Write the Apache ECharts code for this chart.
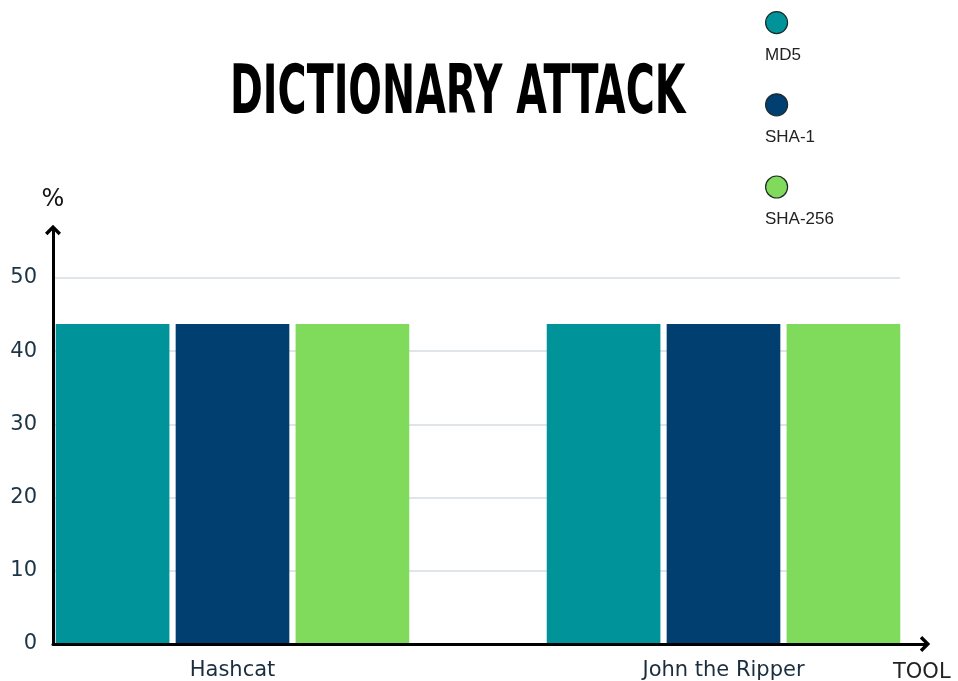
<!DOCTYPE html>
<html>
<head>
<meta charset="utf-8">
<script src="https://cdn.jsdelivr.net/npm/echarts@6/dist/echarts.min.js"></script>
<style>
html,body{margin:0;padding:0;background:#fff;}
#chart{width:958px;height:681px;}
</style>
</head>
<body>
<div id="chart"></div>
<script>
const titleText = 'DICTIONARY ATTACK';
const categories = ['Hashcat', 'John the Ripper'];
const seriesNames = ['MD5', 'SHA-1', 'SHA-256'];
const md5Values = [43.7, 43.7];
const sha1Values = [43.7, 43.7];
const sha256Values = [43.7, 43.7];
const yTicks = [0, 10, 20, 30, 40, 50];
const xAxisName = 'TOOL';
const yAxisName = '%';
const colors = ['#00939a', '#003f6f', '#80da5b'];

const chart = echarts.init(document.getElementById('chart'));
const seriesValues = [md5Values, sha1Values, sha256Values];
const yMin = yTicks[0], yMax = yTicks[yTicks.length - 1], yStep = yTicks[1] - yTicks[0];
const tickFont = '"DejaVu Sans", sans-serif';

const arrowPath = 'path://M0,10 L10,0 L20,10 L17,13 L10,6 L3,13 Z';

const option = {
  backgroundColor: '#ffffff',
  animation: false,
  grid: [
    { left: 55, right: 58, top: 278, bottom: 37, outerBoundsMode: 'none', containLabel: false },
    { left: 53, right: 33, top: 230, bottom: 37, outerBoundsMode: 'none', containLabel: false },
    { left: -13, right: -11, top: 278, bottom: 37, outerBoundsMode: 'none', containLabel: false }
  ],
  legend: {
    orient: 'vertical',
    left: 765, top: 11, padding: 0,
    itemWidth: 22, itemHeight: 22, itemGap: 59,
    icon: 'circle',
    itemStyle: { borderColor: '#1c2b2b', borderWidth: 1.2 },
    formatter: function () { return ''; },
    data: seriesNames
  },
  graphic: [
    {
      type: 'text',
      left: 230,
      top: 62,
      scaleY: 1.54,
      style: {
        text: titleText,
        font: 'bold 44px "Liberation Sans Narrow", "DejaVu Sans Condensed", sans-serif',
        fill: '#000'
      }
    }
  ].concat(seriesNames.map(function (n, i) {
    return {
      type: 'text', left: 765, top: 47 + i * 82,
      style: { text: n, font: '17px "Liberation Sans", Arial, sans-serif', fill: '#222' }
    };
  })),
  xAxis: [
    { gridIndex: 0, type: 'value', show: false },
    {
      gridIndex: 1, type: 'value', min: 0, max: 1,
      axisLine: { show: true, lineStyle: { color: '#000', width: 3 }, symbol: ['none', arrowPath], symbolSize: [16, 12] },
      axisTick: { show: false }, axisLabel: { show: false }, splitLine: { show: false },
      name: xAxisName, nameLocation: 'end', nameGap: -32,
      nameTextStyle: { fontFamily: tickFont, fontSize: 21, color: '#222', verticalAlign: 'top', padding: [18, 0, 0, 0] },
      z: 10
    },
    {
      gridIndex: 2, type: 'category', data: categories,
      axisLine: { show: false }, axisTick: { show: false },
      axisLabel: { fontFamily: tickFont, fontSize: 21, color: '#1a2e3f', margin: 16 }
    }
  ],
  yAxis: [
    {
      gridIndex: 0, type: 'value', min: yMin, max: yMax, interval: yStep,
      axisLine: { show: false }, axisTick: { show: false },
      axisLabel: { fontFamily: tickFont, fontSize: 21, color: '#1b3446', margin: 18 },
      splitLine: { show: true, lineStyle: { color: '#d6dce2', width: 1.5 } }
    },
    {
      gridIndex: 1, type: 'value', min: 0, max: 1,
      axisLine: { show: true, lineStyle: { color: '#000', width: 3 }, symbol: ['none', arrowPath], symbolSize: [16, 12] },
      axisTick: { show: false }, axisLabel: { show: false }, splitLine: { show: false },
      name: yAxisName, nameLocation: 'end', nameGap: 18,
      nameTextStyle: { fontFamily: tickFont, fontSize: 24, color: '#111' },
      z: 10
    },
    {
      gridIndex: 2, type: 'value', min: yMin, max: yMax, interval: yStep, show: false
    }
  ],
  series: seriesNames.map(function (n, i) {
    return {
      name: n, type: 'bar', xAxisIndex: 2, yAxisIndex: 2,
      data: seriesValues[i],
      itemStyle: { color: colors[i] },
      barGap: '5.5%', barCategoryGap: '28%'
    };
  })
};
chart.setOption(option);
</script>
</body>
</html>
